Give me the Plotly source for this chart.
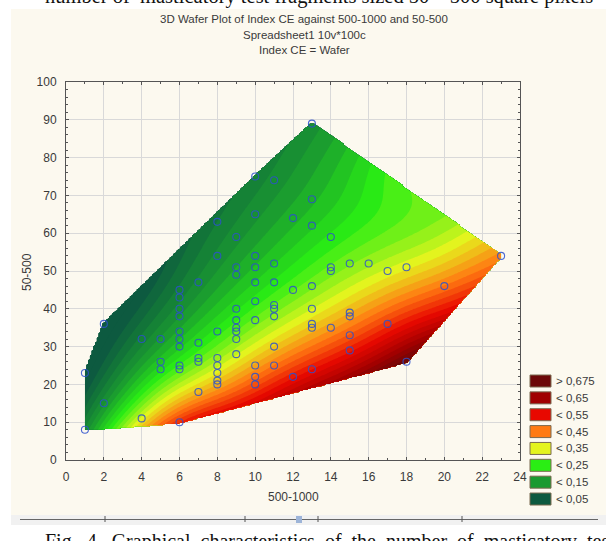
import numpy as np
import plotly.graph_objects as go

# ---------------- data ----------------
x_500_1000 = [1, 1, 2, 2, 4, 4, 5, 5, 5, 6, 6, 6, 6, 6, 6, 6, 6, 6, 6,
              7, 7, 7, 7, 7, 8, 8, 8, 8, 8, 8, 8, 8,
              9, 9, 9, 9, 9, 9, 9, 9, 9,
              10, 10, 10, 10, 10, 10, 10, 10, 10, 10,
              11, 11, 11, 11, 11, 11, 11, 11,
              12, 12, 12,
              13, 13, 13, 13, 13, 13, 13, 13,
              14, 14, 14, 14,
              15, 15, 15, 15, 15,
              16, 17, 17, 18, 18, 20, 23]
y_50_500 = [8, 23, 15, 36, 11, 32, 32, 26, 24, 10, 24, 25, 30, 32, 34, 38, 40, 43, 45,
            18, 26, 27, 31, 47, 20, 21, 23, 25, 27, 34, 54, 63,
            28, 32, 34, 35, 37, 40, 49, 51, 59,
            20, 22, 25, 37, 42, 47, 51, 54, 65, 75,
            25, 30, 38, 40, 41, 47, 52, 74,
            22, 45, 64,
            24, 35, 36, 40, 46, 62, 69, 89,
            35, 50, 51, 59,
            29, 33, 38, 39, 52,
            52, 36, 50, 26, 51, 46, 54]
index_ce = [0.13, 0.04, 0.13, 0.06, 0.36, 0.13, 0.16, 0.19, 0.21, 0.60, 0.25, 0.24, 0.20, 0.19, 0.18, 0.16, 0.15, 0.14, 0.13,
            0.39, 0.27, 0.26, 0.23, 0.15, 0.40, 0.38, 0.35, 0.32, 0.30, 0.24, 0.15, 0.13,
            0.32, 0.28, 0.26, 0.26, 0.24, 0.23, 0.18, 0.18, 0.15,
            0.50, 0.45, 0.40, 0.27, 0.24, 0.21, 0.20, 0.19, 0.15, 0.13,
            0.44, 0.37, 0.29, 0.28, 0.27, 0.23, 0.21, 0.15,
            0.55, 0.27, 0.19,
            0.54, 0.37, 0.36, 0.33, 0.28, 0.21, 0.19, 0.15,
            0.40, 0.28, 0.27, 0.24,
            0.52, 0.45, 0.39, 0.38, 0.29,
            0.31, 0.47, 0.34, 0.69, 0.35, 0.43, 0.43]

# colour anchors of the smooth shading (value -> colour) and the legend classes
shade_values = [0.07, 0.17, 0.26, 0.36, 0.45, 0.54, 0.63, 0.69]
level_colors = ["#0d5a40", "#1a9a30", "#2aee14", "#e4f41e", "#ff7a12", "#e80800", "#a00000", "#6c0808"]
legend_labels = ["> 0,675", "< 0,65", "< 0,55", "< 0,45", "< 0,35", "< 0,25", "< 0,15", "< 0,05"]

title_lines = ["3D Wafer Plot of Index CE against 500-1000 and 50-500",
               "Spreadsheet1 10v*100c",
               "Index CE = Wafer"]
x_title = "500-1000"
y_title = "50-500"
top_text = "number of  masticatory test fragments sized 50 \u2013 500 square pixels"
caption_words = ["Fig.", "4.", "Graphical", "characteristics", "of", "the", "number", "of",
                 "masticatory", "test", "fragments"]

# ---------------- geometry of the page ----------------
W, H = 606, 541
ML, MR, MT, MB = 66, 86, 82, 81
PW, PH = W - ML - MR, H - MT - MB
XR, YR = [0, 24], [0, 100]


def px_x(p):
    return (p - ML) / PW


def px_y(p):
    return (H - MB - p) / PH


# ---------------- surface (distance weighted least squares) ----------------
xs = np.asarray(x_500_1000, float)
ys = np.asarray(y_50_500, float)
zs = np.asarray(index_ce, float)
sx, sy = PW / (XR[1] - XR[0]), PH / (YR[1] - YR[0])


def convex_hull(points):
    pts = sorted(set(points))

    def cross(o, a, b):
        return (a[0] - o[0]) * (b[1] - o[1]) - (a[1] - o[1]) * (b[0] - o[0])

    lower, upper = [], []
    for p in pts:
        while len(lower) >= 2 and cross(lower[-2], lower[-1], p) <= 0:
            lower.pop()
        lower.append(p)
    for p in reversed(pts):
        while len(upper) >= 2 and cross(upper[-2], upper[-1], p) <= 0:
            upper.pop()
        upper.append(p)
    return lower[:-1] + upper[:-1]


hull = convex_hull(list(zip(xs * sx, ys * sy)))

gx = np.linspace(xs.min(), xs.max(), 241)
gy = np.linspace(ys.min(), ys.max(), 261)
GX, GY = np.meshgrid(gx, gy)
U, V = GX.ravel() * sx, GY.ravel() * sy
PU, PV = xs * sx, ys * sy

inside = np.ones(U.shape, bool)
for i in range(len(hull)):
    a = hull[i]
    b = hull[(i + 1) % len(hull)]
    ex, ey = b[0] - a[0], b[1] - a[1]
    L = np.hypot(ex, ey)
    dist = (ex * (V - a[1]) - ey * (U - a[0])) / L
    inside &= dist >= -1.6

h = 42.0
du = PU[None, :] - U[:, None]
dv = PV[None, :] - V[:, None]
w = np.exp(-(du ** 2 + dv ** 2) / (2 * h * h))
A = np.empty((U.size, 3, 3))
A[:, 0, 0] = w.sum(1)
A[:, 0, 1] = A[:, 1, 0] = (w * du).sum(1)
A[:, 0, 2] = A[:, 2, 0] = (w * dv).sum(1)
A[:, 1, 1] = (w * du * du).sum(1)
A[:, 1, 2] = A[:, 2, 1] = (w * du * dv).sum(1)
A[:, 2, 2] = (w * dv * dv).sum(1)
A += np.eye(3)[None] * 1e-6 * A[:, 0, 0][:, None, None]
B = np.stack([(w * zs).sum(1), (w * zs * du).sum(1), (w * zs * dv).sum(1)], axis=1)
coef = np.linalg.solve(A, B[:, :, None])[:, 0, 0]
Z = np.clip(coef, 0.0, 0.8)
Z[~inside] = np.nan
Z = Z.reshape(GX.shape)

lo, hi = shade_values[0], shade_values[-1]
colorscale = [[(v - lo) / (hi - lo), c] for v, c in zip(shade_values, level_colors)]

fig = go.Figure()
fig.add_trace(go.Contour(
    x=gx, y=gy, z=Z, colorscale=colorscale, zmin=lo, zmax=hi, zauto=False,
    contours=dict(start=0.0, end=0.8, size=0.02, coloring="fill", showlines=False),
    line=dict(width=0), showscale=False, connectgaps=False, hoverinfo="skip"))
fig.add_trace(go.Scatter(
    x=x_500_1000, y=y_50_500, mode="markers",
    marker=dict(symbol="circle-open", size=7, color="rgba(45,80,205,0.85)",
                line=dict(width=1.1)),
    hoverinfo="skip"))

# ---------------- page decoration ----------------
shapes = [
    dict(type="rect", xref="paper", yref="paper", layer="below",
         x0=px_x(11), x1=px_x(W + 2), y0=px_y(9), y1=px_y(515),
         fillcolor="#fcf9ef", line=dict(width=0)),
    dict(type="rect", xref="paper", yref="paper", layer="below",
         x0=px_x(11), x1=px_x(W + 2), y0=px_y(515), y1=px_y(525),
         fillcolor="#f1f1f1", line=dict(width=0)),
    dict(type="line", xref="paper", yref="paper",
         x0=px_x(20), x1=px_x(598), y0=px_y(519.5), y1=px_y(519.5),
         line=dict(color="#666", width=1)),
]
for tx in [105, 245, 318, 462]:
    shapes.append(dict(type="line", xref="paper", yref="paper",
                       x0=px_x(tx), x1=px_x(tx), y0=px_y(516), y1=px_y(522),
                       line=dict(color="#555", width=1)))
shapes.append(dict(type="rect", xref="paper", yref="paper",
                   x0=px_x(296), x1=px_x(302), y0=px_y(516), y1=px_y(523),
                   fillcolor="#9db4d8", line=dict(width=0)))

annotations = []
for i, t in enumerate(title_lines):
    annotations.append(dict(text=t, xref="paper", yref="paper", x=px_x(304), y=px_y(19 + 15.5 * i),
                            xanchor="center", yanchor="middle", showarrow=False,
                            font=dict(family="Liberation Sans, Arial", size=11.5, color="#3a3a3a")))

box_x0, box_x1, first_y, step = 530, 551, 381, 16.86
for i, (lab, col) in enumerate(zip(legend_labels, reversed(level_colors))):
    cy = first_y + step * i
    shapes.append(dict(type="rect", xref="paper", yref="paper",
                       x0=px_x(box_x0), x1=px_x(box_x1), y0=px_y(cy + 6), y1=px_y(cy - 6),
                       fillcolor=col, line=dict(color="#7a6a50", width=1)))
    annotations.append(dict(text=lab, xref="paper", yref="paper", x=px_x(554), y=px_y(cy),
                            xanchor="left", yanchor="middle", showarrow=False,
                            font=dict(family="Liberation Sans, Arial", size=11.5, color="#3a3a3a")))

annotations.append(dict(text=x_title, xref="paper", yref="paper", x=px_x(293), y=px_y(497),
                        xanchor="center", yanchor="middle", showarrow=False,
                        font=dict(family="Liberation Sans, Arial", size=12, color="#3a3a3a")))
annotations.append(dict(text=y_title, xref="paper", yref="paper", x=px_x(27), y=px_y(272),
                        xanchor="center", yanchor="middle", showarrow=False, textangle=-90,
                        font=dict(family="Liberation Sans, Arial", size=12, color="#3a3a3a")))
annotations.append(dict(text=top_text, xref="paper", yref="paper", x=px_x(43), y=px_y(-4),
                        xanchor="left", yanchor="middle", showarrow=False,
                        font=dict(family="Liberation Serif, Times New Roman", size=20.5, color="#111")))
annotations.append(dict(text=" \u00a0".join(caption_words), xref="paper", yref="paper",
                        x=px_x(43), y=px_y(541),
                        xanchor="left", yanchor="middle", showarrow=False,
                        font=dict(family="Liberation Serif, Times New Roman", size=20, color="#111")))

axis_common = dict(showline=True, linecolor="#555", linewidth=1, mirror="ticks",
                   ticks="inside", ticklen=3, tickcolor="#555", showgrid=True,
                   gridcolor="#d9d9d9", gridwidth=1, zeroline=False,
                   tickfont=dict(family="Liberation Sans, Arial", size=12, color="#3a3a3a"))

fig.update_layout(
    width=W, height=H, margin=dict(l=ML, r=MR, t=MT, b=MB, pad=0),
    paper_bgcolor="white", plot_bgcolor="white", showlegend=False,
    shapes=shapes, annotations=annotations,
    xaxis=dict(range=XR, dtick=2, tick0=0, ticklabelstandoff=6,
               minor=dict(dtick=1, ticks="inside", ticklen=2, tickcolor="#555", showgrid=False),
               **axis_common),
    yaxis=dict(range=YR, dtick=10, tick0=0, ticklabelstandoff=6,
               minor=dict(dtick=2, ticks="inside", ticklen=2, tickcolor="#555", showgrid=False),
               **axis_common),
)

fig.write_html("out.html", config={"displayModeBar": False},
               post_script="document.body.style.margin='0';document.body.style.overflow='hidden';")
